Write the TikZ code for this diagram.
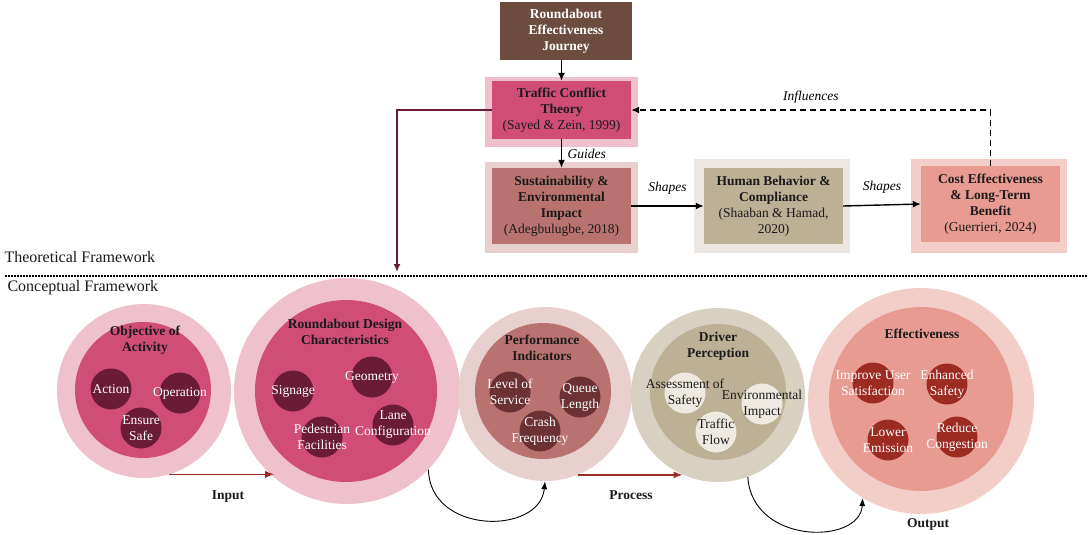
\documentclass[tikz,border=0pt]{standalone}
\usepackage{fontspec}
\setmainfont{Liberation Serif}
\usetikzlibrary{arrows.meta,calc}
\definecolor{journey}{HTML}{6E4B3F}
\definecolor{rose}{HTML}{D04D77}
\definecolor{roselight}{HTML}{EEC1CD}
\definecolor{mauve}{HTML}{B87370}
\definecolor{mauvelight}{HTML}{E8D0CF}
\definecolor{khaki}{HTML}{BDB195}
\definecolor{khakilight}{HTML}{ECE7E2}
\definecolor{khakiring}{HTML}{D8D1C2}
\definecolor{salmon}{HTML}{E89B91}
\definecolor{salmonlight}{HTML}{F3CEC9}
\definecolor{plum}{HTML}{6A1B35}
\definecolor{cocoa}{HTML}{6B3135}
\definecolor{cream}{HTML}{EEEAE2}
\definecolor{brick}{HTML}{9C2B22}
\definecolor{flowred}{HTML}{9E2B25}
\definecolor{ink}{HTML}{1A1A1A}

\begin{document}
\begin{tikzpicture}[
  x=1pt, y=-1pt,
  font=\fontsize{13.5}{16}\selectfont, text=ink,
  box/.style={minimum width=139pt, align=center, inner sep=1pt},
  halo/.style={minimum width=153pt},
  ring/.style={circle, inner sep=0pt, minimum size=#1},
  blob/.style={circle, inner sep=0pt, minimum size=41pt},
  lbl/.style={align=center, text=white, inner sep=0pt},
  head/.style={align=center, font=\fontsize{13.5}{16}\selectfont\bfseries},
  tag/.style={font=\fontsize{13.5}{16}\selectfont\itshape},
  arr/.style={-{Latex[length=8pt,width=7pt]}, line width=1.4pt, black},
  flow/.style={-{Latex[length=9pt,width=7pt]}, line width=1.3pt, flowred},
  swing/.style={-{Latex[length=8pt,width=6pt]}, line width=0.9pt, black},
]
\useasboundingbox (0,0) rectangle (1090,535);

% theoretical framework
\node[box, minimum width=132pt, minimum height=58pt, fill=journey, text=white, font=\fontsize{13.5}{16}\selectfont\bfseries]
  (jr) at (566,31) {Roundabout\\Effectiveness\\Journey};

\node[halo, minimum height=69pt, fill=roselight] (tcth) at (561,112) {};
\node[box, minimum height=58pt, fill=rose] (tct) at (561.5,110)
  {\textbf{Traffic Conflict}\\\textbf{Theory}\\(Sayed \& Zein, 1999)};

\node[halo, minimum height=91pt, fill=mauvelight] (seih) at (561.5,207.5) {};
\node[box, minimum height=76pt, fill=mauve] (sei) at (561.5,206)
  {\textbf{Sustainability \&}\\\textbf{Environmental}\\\textbf{Impact}\\(Adegbulugbe, 2018)};

\node[halo, minimum width=156pt, minimum height=94pt, fill=khakilight] (hbch) at (772,206) {};
\node[box, minimum height=76pt, fill=khaki] (hbc) at (773.5,206)
  {\textbf{Human Behavior \&}\\\textbf{Compliance}\\(Shaaban \& Hamad,\\2020)};

\node[halo, minimum width=156pt, minimum height=94pt, fill=salmonlight] (celh) at (989,206) {};
\node[box, minimum height=76pt, fill=salmon] (cel) at (990.5,204)
  {\textbf{Cost Effectiveness}\\\textbf{\& Long-Term}\\\textbf{Benefit}\\(Guerrieri, 2024)};

\draw[arr] (tct.north |- jr.south) -- (tct.north);
\draw[arr] (tct.south) -- (sei.north) node[tag, midway, right=2pt] {Guides};
\draw[arr] (sei.east) -- (hbc.west) node[tag, midway, above=8pt] {Shapes};
\draw[arr] (hbc.east) -- (cel.west) node[tag, midway, above=8pt] {Shapes};
\draw[arr, dashed, dash pattern=on 6pt off 4pt] (cel.north) |- (tct.east)
  node[tag, pos=0.75, above=3pt] {Influences};

\coordinate (cf) at (397,272);
\draw[-{Latex[length=8pt,width=7pt]}, line width=1.4pt, plum] (tct.west) -| (cf);

\node[anchor=west, font=\fontsize{16}{18}\selectfont] (thf) at (1,257) {Theoretical Framework};
\draw[line width=1.3pt, dash pattern=on 1.5pt off 1.5pt] (5,276) -- (1088,276);
\node[anchor=west, font=\fontsize{16}{18}\selectfont] (cof) at (4,288) {Conceptual Framework};

% conceptual framework
\node[ring=174pt, fill=roselight] (obj) at (144,391) {};
\node[ring=136pt, fill=rose] (objc) at (143,390) {};
\node[head] (objt) at (145,340) {Objective of\\Activity};
\node[blob, fill=plum, label={[lbl]center:Action}] (act) at (111,389) {};
\node[blob, fill=plum, label={[lbl]center:Operation}] (ope) at (180,393) {};
\node[blob, fill=plum, label={[lbl]center:{Ensure\\Safe}}] (ens) at (141,428) {};

\node[ring=226pt, fill=roselight] (rdc) at (347,391) {};
\node[ring=182pt, fill=rose] (rdcc) at (346,391) {};
\node[head] (rdct) at (345,332) {Roundabout Design\\Characteristics};
\node[blob, fill=plum, label={[lbl]center:Signage}] (sig) at (293,391) {};
\node[blob, fill=plum, label={[lbl]center:Geometry}] (geo) at (372,377) {};
\node[blob, fill=plum, label={[lbl]center:{Pedestrian\\Facilities}}] (ped) at (322,437) {};
\node[blob, fill=plum, label={[lbl]center:{Lane\\Configuration}}] (lan) at (393,425) {};

\node[ring=174pt, fill=mauvelight] (pi) at (545,394) {};
\node[ring=136pt, fill=mauve] (pic) at (543,391) {};
\node[head] (pit) at (542,348) {Performance\\Indicators};
\node[blob, fill=cocoa, label={[lbl]center:{Level of\\Service}}] (los) at (510,392) {};
\node[blob, fill=cocoa, label={[lbl]center:{Queue\\Length}}] (que) at (580,397) {};
\node[blob, fill=cocoa, label={[lbl]center:{Crash\\Frequency}}] (cra) at (540,431) {};

\node[ring=174pt, fill=khakiring] (drv) at (718,395) {};
\node[ring=136pt, fill=khaki] (drvc) at (718,392) {};
\node[head] (drvt) at (718,346) {Driver\\Perception};
\node[blob, fill=cream, label={[lbl, text=ink]center:{Assessment of\\Safety}}] (aos) at (685,393) {};
\node[blob, fill=cream, label={[lbl, text=ink]center:{Environmental\\Impact}}] (env) at (762,404) {};
\node[blob, fill=cream, label={[lbl, text=ink]center:{Traffic\\Flow}}] (tfl) at (716,432) {};

\node[ring=226pt, fill=salmonlight] (eff) at (921,401) {};
\node[ring=184pt, fill=salmon] (effc) at (921,399) {};
\node[head] (efft) at (922,334) {Effectiveness};
\node[blob, fill=brick, label={[lbl]center:{Improve User\\Satisfaction}}] (ius) at (873,383) {};
\node[blob, fill=brick, label={[lbl]center:{Enhanced\\Safety}}] (ens2) at (947,384) {};
\node[blob, fill=brick, label={[lbl]center:{Lower\\Emission}}] (low) at (888,440) {};
\node[blob, fill=brick, label={[lbl]center:{Reduce\\Congestion}}] (red) at (957,437) {};

\draw[flow] (obj.-73) -- (rdc.-130 |- obj.-73);
\node[head] (inp) at (228,497) {Input};
\draw[swing] (rdc.-44) .. controls (430,535) and (540,535) .. (pi.south);
\draw[flow] (pi.-68) -- (drv.-114 |- pi.-68);
\node[head] (prc) at (631,495) {Process};
\draw[swing] (drv.-70) .. controls (752,545) and (860,545) .. (eff.-121);
\node[head] (out) at (928,524) {Output};
\end{tikzpicture}
\end{document}
